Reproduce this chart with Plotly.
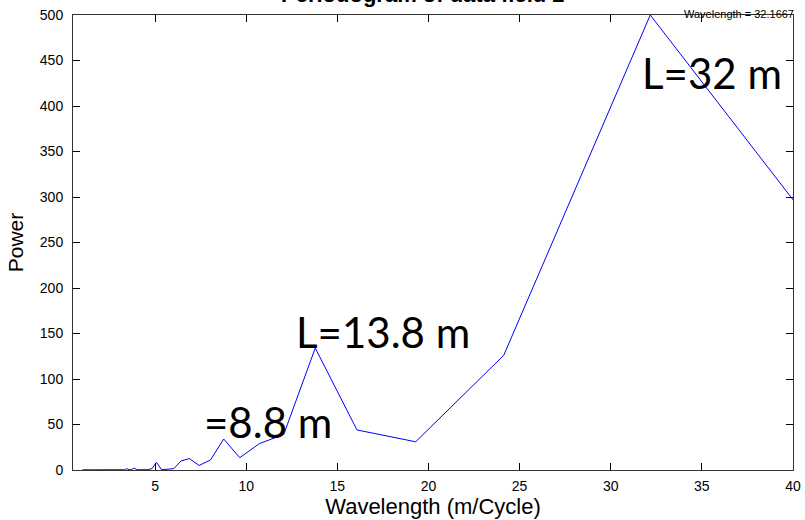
import plotly.graph_objects as go

# Data
wavelength = [1.01, 1.5, 2.0, 2.5, 3.0, 3.33, 3.45, 3.57, 3.71, 3.86, 4.02, 4.20,
              4.39, 4.60, 4.83, 5.08, 5.36, 5.68, 6.03, 6.43, 6.89, 7.42, 8.04,
              8.77, 9.65, 10.72, 12.06, 13.79, 16.08, 19.30, 24.13, 32.17, 48.25]
power = [0.2, 0.2, 0.2, 0.2, 0.3, 0.3, 1.5, 0.3, 0.5, 2.0, 0.3, 0.5,
         0.8, 0.4, 1.5, 8.5, 0.3, 1.0, 1.5, 10.0, 12.5, 5.0, 11.0,
         34.0, 13.5, 29.0, 39.0, 134.0, 44.0, 31.0, 126.0, 500.0, 83.0]

x_ticks = [5, 10, 15, 20, 25, 30, 35, 40]
y_ticks = [0, 50, 100, 150, 200, 250, 300, 350, 400, 450, 500]

title_text = "Periodogram of data field 2"
tip_text = "Wavelength = 32.1667"
labels = ["L=32 m", "L=13.8 m", "=8.8 m"]

fig = go.Figure()
fig.add_trace(go.Scatter(x=wavelength, y=power, mode="lines",
                         line=dict(color="#0000ff", width=1), showlegend=False))

axis_common = dict(showgrid=False, zeroline=False, showline=True, linecolor="#333333",
                   linewidth=1, ticks="inside", ticklen=7, tickcolor="#000000",
                   mirror="ticks", automargin=False,
                   tickfont=dict(family="Liberation Sans, Arial", size=14, color="#000000"))

fig.update_layout(
    width=805, height=520,
    margin=dict(l=73, r=12, t=15, b=50, autoexpand=False),
    paper_bgcolor="white", plot_bgcolor="white",
    xaxis=dict(range=[0.5, 40], tickvals=x_ticks, ticklabelstandoff=3,
               title=dict(text="Wavelength (m/Cycle)", standoff=5,
                          font=dict(family="Liberation Sans, Arial", size=22, color="#000000")),
               **axis_common),
    yaxis=dict(range=[0, 500], tickvals=y_ticks, ticklabelstandoff=6,
               title=dict(text="Power", standoff=10,
                          font=dict(family="Liberation Sans, Arial", size=21, color="#000000")),
               **axis_common),
)

big_font = dict(family="Lato, Open Sans, sans-serif", size=42, color="#000000")
fig.add_annotation(x=31.6, y=436, xref="x", yref="y", text=labels[0], showarrow=False,
                   xanchor="left", yanchor="middle", font=big_font)
fig.add_annotation(x=12.6, y=152, xref="x", yref="y", text=labels[1], showarrow=False,
                   xanchor="left", yanchor="middle", font=big_font)
fig.add_annotation(x=7.6, y=53, xref="x", yref="y", text=labels[2], showarrow=False,
                   xanchor="left", yanchor="middle", font=big_font)

fig.add_annotation(x=1.0037, y=1.002, xref="paper", yref="paper", text=tip_text,
                   showarrow=False, xanchor="right", yanchor="middle",
                   font=dict(family="Liberation Sans, Arial", size=11, color="#000000"))

fig.add_annotation(x=0.486, y=1.013, xref="paper", yref="paper", text="<b>" + title_text + "</b>",
                   showarrow=False, xanchor="center", yanchor="bottom",
                   font=dict(family="Liberation Sans, Arial", size=22, color="#000000"))

fig.write_html("out.html", config={"displayModeBar": False},
               post_script="document.body.style.margin='0';document.body.style.padding='0';")
